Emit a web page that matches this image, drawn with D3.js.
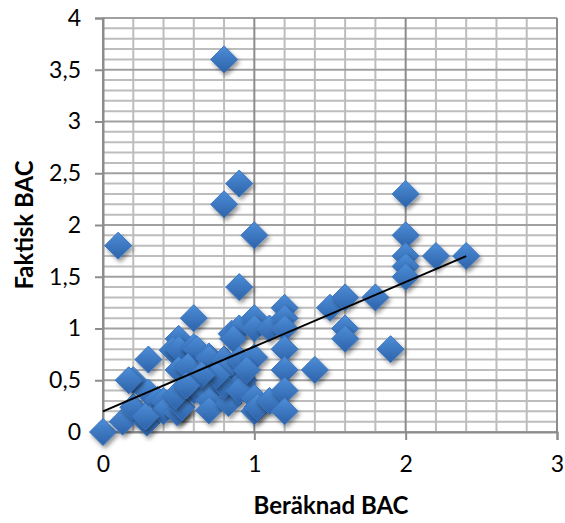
<!DOCTYPE html>
<html><head><meta charset="utf-8">
<script src="https://cdn.jsdelivr.net/npm/d3@7"></script>
<style>
html,body{margin:0;padding:0;background:#fff;}
svg{display:block;}
</style></head>
<body>
<svg id="c" width="565" height="523"></svg>
<script>
// Data (Beräknad BAC, Faktisk BAC)
const xValues = [0,0.1,0.13,0.2,0.2,0.3,0.3,0.29,0.36,0.4,0.4,0.5,0.46,0.5,0.5,0.5,0.49,0.52,0.6,0.6,0.62,0.56,0.6,0.6,0.7,0.7,0.7,0.7,0.7,0.8,0.8,0.85,0.8,0.83,0.8,0.83,0.8,0.9,0.9,0.9,0.86,0.9,0.91,0.93,0.9,1.0,1.0,1.0,1.0,1.0,1.0,1.02,1.1,1.1,1.2,1.2,1.2,1.2,1.2,1.2,1.2,1.4,1.5,1.6,1.6,1.6,1.8,1.9,2.0,2.0,2.0,2.0,2.0,2.2,2.4,0.28,0.17,0.48,0.75,0.65,0.55,0.95];
const yValues = [0,1.8,0.1,0.5,0.24,0.7,0.38,0.09,0.31,0.3,0.2,0.9,0.79,0.8,0.6,0.21,0.19,0.24,1.1,0.82,0.8,0.63,0.44,0.4,0.73,0.71,0.38,0.31,0.21,3.6,2.2,0.95,0.7,0.5,0.6,0.28,0.45,2.4,1.4,1.0,0.9,0.7,0.47,0.5,0.4,1.9,1.1,1.0,0.72,0.33,0.2,0.24,1.0,0.3,1.2,1.1,1.0,0.8,0.6,0.4,0.2,0.6,1.2,1.3,1.0,0.9,1.3,0.8,2.3,1.9,1.7,1.6,1.5,1.7,1.7,0.15,0.5,0.35,0.55,0.55,0.45,0.6];
const trendX = [0, 2.4];
const trendY = [0.2, 1.7];
const xTicks = [0,1,2,3];
const yTicks = [0,0.5,1,1.5,2,2.5,3,3.5,4];
const xTitle = "Beräknad BAC";
const yTitle = "Faktisk BAC";

const svg = d3.select("#c");
const L=103, R=557, T=18, B=432;
const FONT = "Lato, 'Open Sans', sans-serif";
const x = d3.scaleLinear().domain([0,3]).range([L,R]);
const y = d3.scaleLinear().domain([0,4]).range([B,T]);
const fmt = d => String(d).replace(".", ",");

const defs = svg.append("defs");
const g = defs.append("linearGradient").attr("id","mk").attr("x1",0).attr("y1",0).attr("x2",0).attr("y2",1);
g.append("stop").attr("offset","0%").attr("stop-color","#4d8ed9");
g.append("stop").attr("offset","100%").attr("stop-color","#2d62a8");
const f = defs.append("filter").attr("id","sh").attr("x","-50%").attr("y","-50%").attr("width","200%").attr("height","200%");
f.append("feDropShadow").attr("dx",2).attr("dy",3).attr("stdDeviation",2).attr("flood-color","#000").attr("flood-opacity",0.4);

// grid
const minorX = d3.range(0, 3.0001, 0.2).map(v=>+v.toFixed(2));
const minorY = d3.range(0, 4.0001, 0.1).map(v=>+v.toFixed(2));
const grid = svg.append("g");
grid.selectAll(".mx").data(minorX.filter(v=>Math.abs(v-Math.round(v))>1e-6)).join("line")
  .attr("x1",d=>x(d)).attr("x2",d=>x(d)).attr("y1",T).attr("y2",B)
  .attr("stroke","#bdbdbd").attr("stroke-width",2);
grid.selectAll(".my").data(minorY.filter(v=>Math.abs(v*2-Math.round(v*2))>1e-6)).join("line")
  .attr("x1",L).attr("x2",R).attr("y1",d=>y(d)).attr("y2",d=>y(d))
  .attr("stroke","#bdbdbd").attr("stroke-width",2);
grid.selectAll(".My").data(yTicks).join("line")
  .attr("x1",L).attr("x2",R).attr("y1",d=>y(d)).attr("y2",d=>y(d))
  .attr("stroke","#a0a0a0").attr("stroke-width",2);
grid.selectAll(".Mx").data(xTicks).join("line")
  .attr("x1",d=>x(d)).attr("x2",d=>x(d)).attr("y1",T).attr("y2",B)
  .attr("stroke","#8c8c8c").attr("stroke-width",2);

// axes
const xa = svg.append("g").attr("transform",`translate(0,${B})`)
  .call(d3.axisBottom(x).tickValues(xTicks).tickSize(8).tickPadding(16).tickFormat(fmt));
const ya = svg.append("g").attr("transform",`translate(${L},0)`)
  .call(d3.axisLeft(y).tickValues(yTicks).tickSize(8).tickPadding(14).tickFormat(fmt));
[xa,ya].forEach(a=>{
  a.select(".domain").attr("stroke","#8c8c8c").attr("stroke-width",2);
  a.selectAll(".tick line").attr("stroke","#8c8c8c").attr("stroke-width",2);
  a.selectAll("text").attr("font-family",FONT).attr("font-size",23).attr("fill","#000");
});

// points
const pts = xValues.map((v,i)=>({x:v,y:yValues[i]}));
const s = 13.5;
svg.append("g").selectAll("path").data(pts).join("path")
  .attr("d",d=>{const cx=x(d.x), cy=y(d.y); return `M${cx},${cy-s}L${cx+s},${cy}L${cx},${cy+s}L${cx-s},${cy}Z`;})
  .attr("fill","url(#mk)").attr("stroke","#3a75c0").attr("stroke-width",1)
  .attr("filter","url(#sh)");

// trendline
svg.append("line")
  .attr("x1",x(trendX[0])).attr("y1",y(trendY[0]))
  .attr("x2",x(trendX[1])).attr("y2",y(trendY[1]))
  .attr("stroke","#000").attr("stroke-width",2);

// titles
svg.append("text").attr("x",331).attr("y",514).attr("text-anchor","middle")
  .attr("font-family",FONT).attr("font-weight","bold").attr("font-size",24).text(xTitle);
svg.append("text").attr("transform",`translate(33,${(T+B)/2}) rotate(-90)`).attr("text-anchor","middle")
  .attr("font-family",FONT).attr("font-weight","bold").attr("font-size",24).text(yTitle);
</script>
</body></html>
